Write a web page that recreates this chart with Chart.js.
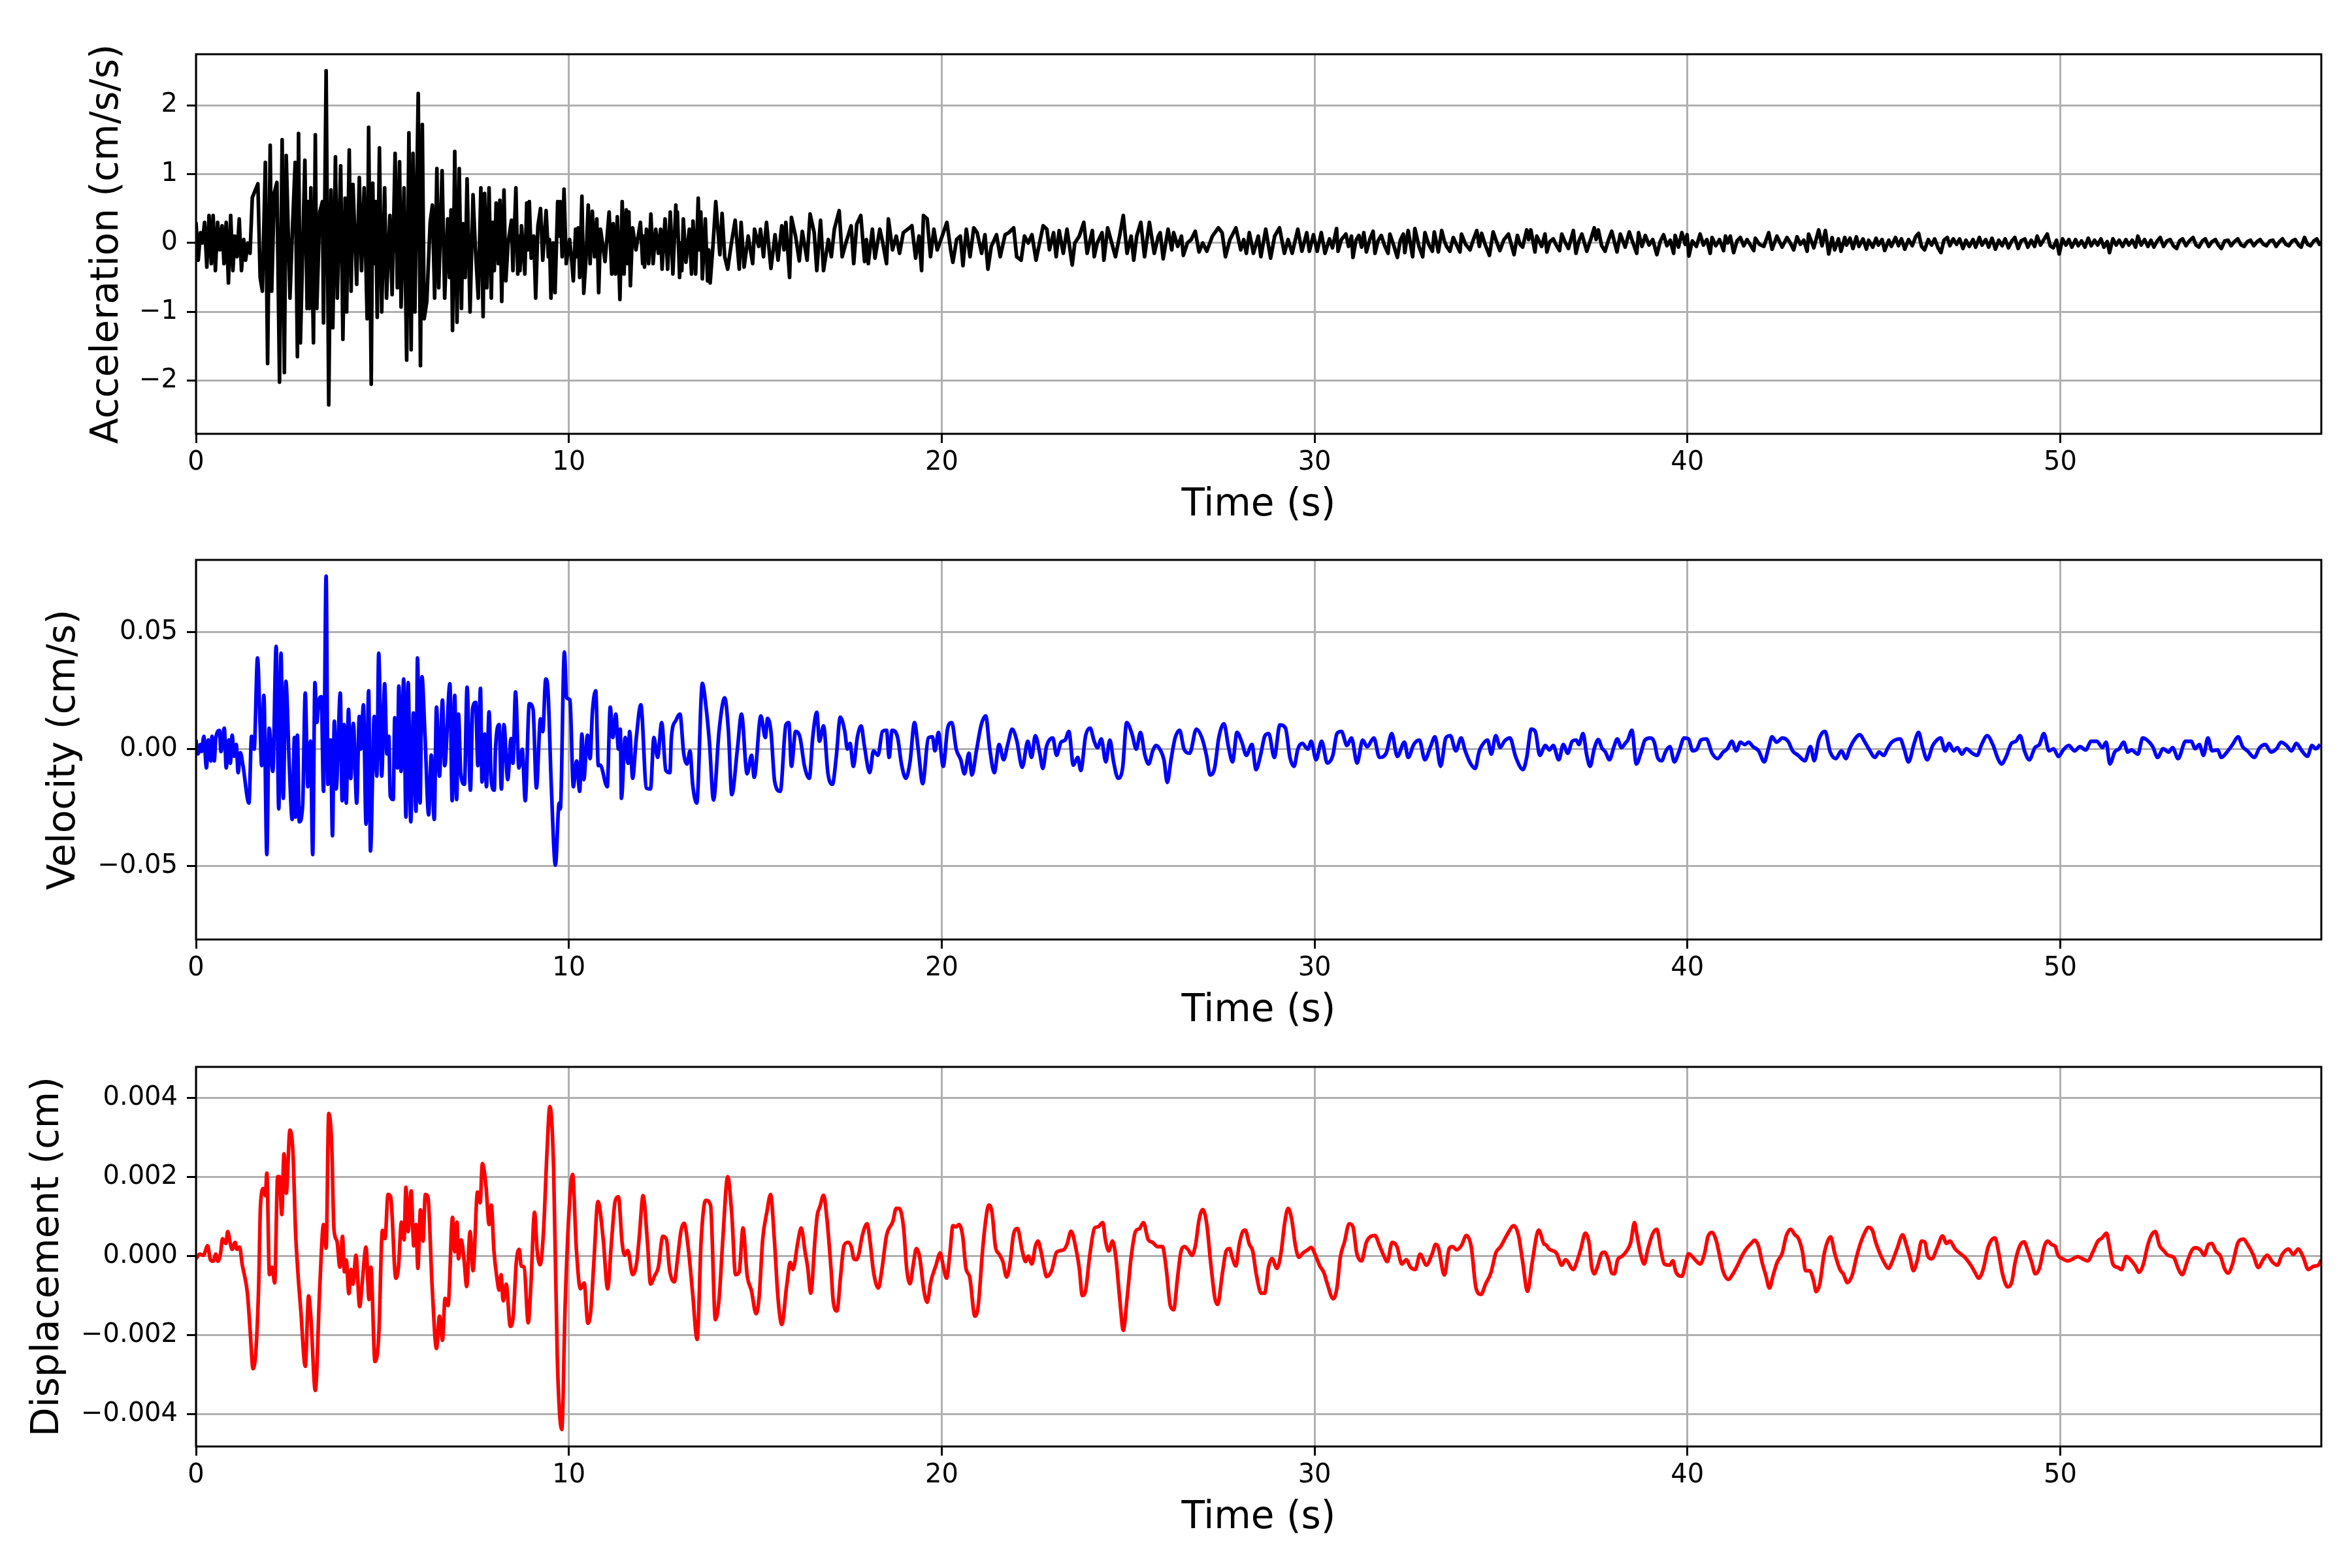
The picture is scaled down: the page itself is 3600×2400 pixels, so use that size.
<!DOCTYPE html>
<html>
<head>
<meta charset="utf-8">
<script src="https://cdn.jsdelivr.net/npm/chart.js@4.4.1/dist/chart.umd.min.js"></script>
<style>
  html, body { margin: 0; padding: 0; background: #fff; }
  body { width: 3600px; height: 2400px; position: relative; overflow: hidden; }
  .panel { position: absolute; left: 0; width: 3600px; }
  canvas { display: block; }
</style>
</head>
<body>
<div class="panel" style="top:0px;height:900px"><canvas id="accChart" width="3600" height="900"></canvas></div>
<div class="panel" style="top:774px;height:900px"><canvas id="velChart" width="3600" height="900"></canvas></div>
<div class="panel" style="top:1550px;height:850px"><canvas id="dispChart" width="3600" height="850"></canvas></div>
<script>
/*---------data [time (s), value]-----------*/
const timeTicks = [0, 10, 20, 30, 40, 50];
const accTicks = [-2, -1, 0, 1, 2];
const velTicks = [-0.05, 0, 0.05];
const dispTicks = [-0.004, -0.002, 0, 0.002, 0.004];

const accel = [
[0.00,0.30],[0.06,-0.25],[0.12,0.15],[0.17,0.00],[0.23,0.30],[0.29,-0.35],[0.35,0.40],[0.41,-0.30],[0.46,0.40],[0.52,-0.40],[0.58,0.30],[0.64,-0.10],[0.70,0.25],[0.75,-0.30],[0.81,0.30],[0.87,-0.58],[0.93,0.40],[0.99,-0.40],[1.04,0.10],[1.10,-0.20],[1.16,0.35],[1.22,-0.40],[1.28,0.05],[1.33,-0.25],[1.39,0.00],[1.45,-0.15],
[1.51,0.66],[1.66,0.86],[1.72,-0.50],[1.78,-0.70],[1.86,1.17],[1.92,-1.75],[1.99,1.42],[2.03,-0.70],[2.10,0.73],[2.17,0.88],[2.24,-2.02],[2.31,1.50],[2.37,-1.88],[2.42,1.27],[2.52,-0.80],[2.59,0.25],[2.66,1.17],[2.72,-1.65],[2.75,1.59],[2.80,-1.45],[2.92,1.20],[2.98,-0.95],[3.01,0.60],[3.04,-0.95],[3.08,0.80],[3.15,-1.45],[3.20,1.57],[3.24,-0.95],[3.32,0.45],[3.39,0.60],[3.42,-1.16],[3.49,2.50],[3.56,-2.35],[3.62,0.77],[3.67,-1.23],[3.74,1.25],[3.79,-0.80],[3.88,1.12],[3.94,-1.40],[4.00,0.65],[4.04,-1.00],[4.11,1.35],[4.16,-0.70],[4.21,0.85],[4.31,-0.60],[4.38,0.95],[4.44,-0.40],[4.51,0.80],[4.59,-1.10],[4.63,1.68],[4.70,-2.05],[4.74,0.87],[4.78,-0.30],[4.82,0.60],[4.86,-1.08],[4.92,1.38],[4.98,-1.00],[5.06,0.80],[5.11,-0.80],[5.20,0.40],[5.26,-0.75],[5.34,1.30],[5.40,-0.65],[5.46,1.18],[5.50,-0.93],[5.58,0.80],[5.65,-1.70],[5.71,1.60],[5.77,-1.55],[5.82,1.30],[5.87,-1.00],[5.96,2.17],[6.02,-1.78],[6.07,1.72],[6.12,-1.10],
[6.19,-0.85],[6.28,0.30],[6.34,0.55],[6.40,-0.80],[6.46,1.08],[6.51,-0.65],[6.60,1.05],[6.67,-0.80],[6.75,0.35],[6.80,-0.50],[6.84,0.48],[6.88,-1.27],[6.94,1.33],[7.00,-1.15],[7.06,1.08],[7.12,-0.95],[7.16,0.28],[7.22,-0.50],[7.27,0.93],[7.35,-1.00],[7.43,0.70],[7.49,-0.05],[7.57,-0.80],[7.64,0.80],[7.70,-1.07],[7.74,0.72],[7.80,-0.65],[7.86,0.80],[7.92,-0.80],[7.96,0.30],[8.00,-0.40],[8.05,0.58],[8.11,-0.30],[8.15,0.62],[8.20,-0.85],[8.26,0.77],[8.31,-0.55],[8.37,0.00],[8.46,0.33],[8.50,-0.40],[8.58,0.80],[8.63,-0.45],[8.66,0.10],[8.69,-0.40],[8.73,0.25],[8.82,-0.45],[8.87,0.58],[8.90,-0.10],[8.94,0.60],[8.99,-0.22],[9.06,0.10],[9.11,-0.80],[9.17,0.25],[9.24,0.50],[9.30,-0.25],[9.39,0.47],[9.45,-0.20],[9.48,0.05],[9.52,-0.80],[9.58,0.00],[9.63,-0.72],[9.70,0.60],[9.73,0.10],[9.77,0.60],[9.82,-0.20],[9.87,0.78],[9.93,-0.30],[10.02,0.05],[10.08,-0.28],[10.12,-0.55],[10.18,0.20],[10.21,-0.20],[10.25,0.22],[10.29,-0.50],[10.35,0.68],[10.40,-0.73],[10.46,-0.22],[10.52,0.55],[10.57,-0.30],[10.63,0.46],[10.69,-0.20],[10.75,0.35],[10.80,-0.72],[10.85,0.20],[10.97,-0.27],[11.08,0.45],[11.15,-0.45],[11.19,0.28],[11.25,-0.45],[11.30,0.38],[11.37,-0.82],[11.43,0.60],[11.48,-0.45],[11.54,0.48],[11.58,-0.30],[11.61,0.45],[11.65,-0.62],[11.71,0.22],[11.80,-0.10],[11.92,0.30],[11.98,-0.30],[12.00,0.10],[12.03,-0.35],[12.08,0.20],[12.14,-0.30],[12.20,0.42],[12.26,-0.30],[12.33,0.20],[12.40,-0.15],[12.46,0.20],[12.50,-0.38],[12.58,0.35],[12.65,-0.38],[12.72,0.45],[12.79,-0.45],[12.87,0.55],[12.89,0.10],[12.91,0.45],[12.97,-0.50],[13.00,0.00],[13.03,-0.40],[13.07,0.35],[13.14,-0.28],[13.23,0.20],[13.29,-0.45],[13.33,0.32],[13.40,-0.45],[13.47,0.65],[13.50,-0.10],[13.54,0.45],[13.58,-0.52],[13.66,0.35],[13.72,-0.55],[13.75,-0.10],[13.79,-0.58],[13.87,0.00],[13.94,0.60],[14.05,-0.17],[14.11,0.43],
[14.18,-0.20],[14.26,-0.38],[14.36,0.00],[14.46,0.33],[14.57,-0.38],[14.62,0.30],[14.70,-0.35],[14.81,0.10],[14.93,-0.30],[14.98,0.20],[15.09,-0.05],[15.14,0.20],[15.22,-0.20],[15.30,0.30],[15.42,-0.37],[15.53,0.12],[15.61,-0.25],[15.71,0.25],[15.77,-0.10],[15.82,0.30],[15.92,-0.50],[15.97,0.37],[16.08,0.10],[16.18,-0.26],[16.26,0.17],[16.39,-0.25],[16.47,0.42],[16.58,0.15],[16.65,-0.40],[16.75,0.33],[16.83,-0.40],[16.96,0.05],[17.04,-0.20],[17.12,0.20],[17.25,0.47],[17.33,-0.20],[17.43,0.00],[17.57,0.25],[17.64,-0.30],[17.72,0.27],[17.83,0.40],[17.93,-0.27],[17.98,0.05],[18.03,-0.30],[18.14,0.20],[18.21,-0.22],[18.34,0.20],[18.42,0.00],[18.52,-0.30],[18.57,0.35],[18.68,-0.10],[18.78,0.10],[18.87,-0.15],[18.97,0.15],[19.09,0.20],[19.20,0.25],[19.30,-0.22],[19.39,0.10],[19.46,-0.40],[19.51,0.40],[19.61,0.35],[19.70,-0.20],[19.79,0.20],[19.88,-0.10],[19.98,0.05],[20.14,0.30],[20.24,-0.10],[20.30,-0.28],[20.40,0.05],[20.50,0.10],[20.57,-0.33],[20.66,0.20],[20.76,-0.20],[20.86,0.22],[20.95,0.15],[21.07,-0.15],[21.16,0.12],[21.24,-0.38],[21.33,-0.05],[21.47,0.12],[21.57,-0.20],[21.70,0.12],[21.80,0.15],[21.93,0.22],[22.01,-0.20],[22.13,-0.25],[22.22,0.10],[22.32,0.00],[22.42,0.12],[22.53,-0.25],[22.72,0.25],[22.82,0.20],[22.89,-0.10],[23.00,0.15],[23.07,-0.20],[23.15,0.18],[23.26,-0.15],[23.36,0.20],[23.50,-0.32],[23.57,0.00],[23.69,0.10],[23.81,0.30],[23.90,-0.15],[24.04,0.18],[24.09,-0.20],[24.17,0.00],[24.30,0.15],[24.35,-0.25],[24.45,0.22],[24.56,0.00],[24.66,-0.20],[24.77,0.10],[24.87,0.40],[24.97,-0.15],[25.08,0.10],[25.15,-0.25],[25.23,0.10],[25.34,0.30],[25.44,-0.20],[25.57,0.30],[25.70,-0.15],[25.81,0.10],[25.86,0.15],[25.94,-0.23],[26.07,0.20],[26.17,-0.10],[26.22,0.15],[26.33,-0.05],[26.43,0.10],[26.48,-0.18],[26.59,0.00],[26.69,0.05],[26.80,0.17],[26.90,-0.13],[27.00,0.00],[27.11,-0.12],[27.26,0.10],[27.42,0.22],[27.52,0.15],[27.61,-0.20],[27.73,0.05],[27.89,0.22],[28.02,-0.10],[28.10,0.05],[28.17,-0.15],[28.25,0.15],[28.36,-0.15],[28.49,0.10],[28.56,-0.20],[28.69,0.20],[28.82,-0.22],[28.93,0.10],[29.06,0.22],[29.19,-0.15],[29.29,0.05],[29.40,-0.15],[29.55,0.20],[29.66,-0.12],[29.79,0.15],[29.86,-0.12],[29.97,0.12],[30.07,-0.12],[30.18,0.15],[30.28,-0.15],
[30.40,0.06],[30.48,-0.07],[30.59,0.21],[30.63,-0.12],[30.72,0.05],[30.84,0.13],[30.91,-0.05],[30.99,0.10],[31.03,-0.21],[31.11,0.04],[31.19,0.11],[31.26,-0.06],[31.32,0.15],[31.39,-0.13],[31.48,0.05],[31.57,0.17],[31.62,-0.15],[31.70,0.03],[31.79,0.11],[31.88,-0.04],[31.97,-0.15],[32.02,0.13],[32.12,-0.03],[32.22,-0.21],[32.30,0.04],[32.38,0.13],[32.42,-0.14],[32.51,0.18],[32.63,-0.20],[32.69,0.21],[32.80,-0.05],[32.90,-0.20],[32.96,0.15],[33.06,-0.02],[33.16,-0.12],[33.21,0.16],[33.32,-0.13],[33.41,0.18],[33.48,0.03],[33.54,-0.05],[33.63,-0.12],[33.72,0.08],[33.81,-0.03],[33.90,-0.13],[33.94,0.13],[34.05,-0.02],[34.17,-0.10],[34.26,0.05],[34.35,0.18],[34.42,-0.05],[34.48,0.14],[34.58,-0.03],[34.69,-0.18],[34.79,0.16],[34.88,0.02],[34.97,-0.11],[35.08,0.05],[35.20,0.13],[35.35,-0.17],[35.44,0.11],[35.51,-0.02],[35.58,-0.06],[35.69,0.19],[35.74,0.05],[35.80,0.19],[35.91,-0.13],[35.96,0.10],[36.09,-0.05],[36.18,0.13],[36.23,-0.13],[36.31,0.02],[36.40,0.06],[36.49,-0.04],[36.57,-0.11],[36.63,0.13],[36.72,0.01],[36.81,-0.08],[36.94,0.18],[37.01,-0.15],[37.09,0.03],[37.17,0.13],[37.30,-0.12],[37.40,0.04],[37.50,0.22],[37.55,0.05],[37.61,0.19],[37.70,-0.04],[37.79,-0.12],[37.88,0.04],[37.97,0.17],[38.11,-0.13],[38.20,0.13],[38.33,-0.06],[38.44,0.16],[38.54,0.00],[38.64,-0.15],[38.69,0.15],[38.78,-0.05],[38.87,0.11],[38.97,-0.03],[39.07,0.05],[39.18,-0.17],[39.27,0.02],[39.36,0.12],[39.45,-0.04],[39.54,0.04],[39.63,-0.15],[39.67,0.11],[39.76,-0.06],[39.85,0.15],[39.94,-0.02],[39.99,0.12],[40.04,-0.19],[40.13,0.03],[40.24,-0.05],[40.34,0.13],[40.43,-0.03],[40.52,0.05],[40.61,-0.15],[40.66,0.08],[40.76,-0.04],[40.86,0.05],[40.97,-0.11],[41.02,0.10],[41.08,0.00],[41.15,0.10],[41.24,-0.14],[41.33,0.03],[41.42,0.08],[41.51,-0.04],[41.60,0.05],[41.69,-0.03],[41.78,-0.11],[41.82,0.07],[41.93,-0.02],[42.05,-0.05],[42.18,0.15],[42.27,-0.09],[42.40,0.10],[42.54,-0.06],[42.67,0.08],[42.76,0.00],[42.85,-0.10],[42.94,0.09],[43.03,-0.02],[43.12,0.04],[43.21,-0.12],[43.25,0.13],[43.39,-0.07],[43.52,0.19],[43.61,-0.04],[43.70,0.18],[43.79,-0.16],
[43.88,0.08],[43.95,-0.10],[44.05,0.06],[44.12,-0.12],[44.22,0.08],[44.27,-0.03],[44.36,0.07],[44.44,-0.08],[44.53,0.09],[44.60,-0.05],[44.71,0.06],[44.80,-0.09],[44.86,0.04],[44.97,-0.06],[45.06,0.07],[45.12,-0.03],[45.22,0.05],[45.29,-0.11],[45.40,0.04],[45.47,-0.05],[45.58,0.08],[45.66,-0.04],[45.74,0.06],[45.83,-0.09],[45.93,0.05],[46.03,-0.04],[46.12,0.09],[46.20,0.14],[46.28,-0.05],[46.36,-0.10],[46.46,0.05],[46.55,-0.03],[46.63,0.06],[46.72,-0.07],[46.80,-0.14],[46.88,0.04],[46.97,0.08],[47.04,-0.04],[47.13,0.06],[47.22,-0.02],[47.30,0.06],[47.39,-0.08],[47.47,0.04],[47.56,-0.05],[47.66,0.05],[47.73,-0.06],[47.83,0.08],[47.90,-0.03],[48.00,0.05],[48.08,-0.06],[48.17,0.07],[48.26,-0.09],[48.35,0.04],[48.44,-0.04],[48.52,0.06],[48.61,-0.07],[48.70,0.03],[48.78,0.08],[48.87,-0.08],[48.95,0.03],[49.05,0.06],[49.13,-0.06],[49.22,0.04],[49.31,-0.05],[49.38,0.10],[49.47,-0.03],[49.56,0.05],[49.65,0.13],[49.73,-0.04],[49.81,-0.07],[49.90,0.04],[49.97,-0.16],[50.06,0.06],[50.15,-0.03],[50.23,0.05],[50.31,-0.06],[50.41,0.05],[50.48,-0.04],[50.57,0.03],[50.66,-0.06],[50.75,0.07],[50.83,-0.04],[50.92,0.04],[51.00,-0.03],[51.09,0.06],[51.17,-0.06],[51.26,0.02],[51.32,-0.14],[51.41,0.06],[51.50,-0.03],[51.58,0.04],[51.67,-0.05],[51.76,0.05],[51.84,-0.03],[51.93,0.04],[52.02,-0.06],[52.08,0.10],[52.17,-0.03],[52.26,0.05],[52.35,-0.05],[52.43,0.04],[52.51,-0.06],[52.60,0.03],[52.68,0.08],[52.77,-0.05],[52.86,0.03],[52.95,0.05],[53.03,-0.04],[53.12,-0.08],[53.20,0.03],[53.28,0.06],[53.37,-0.04],[53.46,0.03],[53.56,0.08],[53.64,-0.03],[53.72,-0.06],[53.81,0.03],[53.89,0.06],[53.98,-0.05],[54.07,0.02],[54.16,0.05],[54.24,-0.03],[54.32,-0.08],[54.41,0.03],[54.50,0.04],[54.58,-0.04],[54.67,0.02],[54.76,0.06],[54.85,-0.03],[54.93,-0.05],[55.02,0.02],[55.10,0.04],[55.19,-0.04],[55.28,0.02],[55.36,0.05],[55.45,-0.02],[55.53,-0.04],[55.62,0.03],[55.70,0.04],[55.79,-0.05],[55.88,0.02],[55.96,0.06],[56.05,-0.02],[56.13,-0.04],[56.22,0.03],[56.30,0.05],[56.39,-0.03],[56.46,-0.06],[56.55,0.08],[56.63,-0.02],[56.71,-0.04],[56.80,0.03],[56.88,0.06],[56.95,-0.02],[57.00,0.02]
];

const velocity = [
[0.00,0.004],[0.05,-0.002],[0.12,0.002],[0.15,-0.001],[0.21,0.0055],[0.28,-0.008],[0.33,0.004],[0.40,-0.005],[0.43,0.0055],[0.49,-0.005],[0.53,0.0045],[0.63,0.008],[0.67,-0.001],[0.76,0.009],[0.81,-0.008],[0.88,0.004],[0.92,-0.006],[0.97,0.006],[1.02,-0.003],[1.08,0.002],[1.13,-0.010],[1.19,-0.0015],[1.26,-0.007],[1.42,-0.023],[1.49,0.0055],[1.56,0.000],[1.65,0.039],[1.72,0.010],[1.76,-0.007],[1.82,0.023],[1.90,-0.045],[1.96,0.009],[2.06,-0.0095],[2.15,0.044],[2.22,-0.0255],[2.28,0.041],[2.34,-0.021],[2.41,0.029],[2.50,-0.006],[2.58,-0.030],[2.64,0.005],[2.67,-0.029],[2.72,0.006],[2.77,-0.031],[2.86,-0.024],[2.93,0.024],[3.00,-0.016],[3.07,0.0035],[3.13,-0.045],[3.19,0.0285],[3.24,0.0115],[3.29,0.020],[3.36,0.0225],[3.42,-0.018],[3.49,0.074],[3.54,-0.015],[3.61,0.004],[3.66,-0.037],[3.71,0.012],[3.76,-0.017],[3.87,0.024],[3.92,-0.022],[3.97,0.0105],[4.03,-0.023],[4.09,0.017],[4.15,-0.0125],[4.22,0.011],[4.31,-0.023],[4.38,0.014],[4.42,0.000],[4.49,0.019],[4.56,-0.032],[4.63,0.025],[4.68,-0.0435],[4.78,0.014],[4.85,-0.0115],[4.90,0.041],[4.98,-0.0115],[5.06,0.028],[5.12,-0.002],[5.17,0.0055],[5.21,-0.020],[5.29,-0.0215],[5.33,0.0135],[5.40,-0.008],[5.44,0.027],[5.50,-0.0095],[5.57,0.030],[5.63,-0.029],[5.69,0.0285],[5.76,-0.031],[5.83,0.0155],[5.90,-0.0265],[5.94,0.039],[6.01,-0.023],[6.06,0.031],[6.14,0.0065],[6.24,-0.028],[6.31,-0.0025],[6.39,-0.030],[6.45,0.018],[6.53,-0.0115],[6.61,0.021],[6.67,-0.007],[6.81,0.028],[6.87,-0.022],[6.94,0.023],[6.99,-0.0215],[7.04,0.015],[7.10,-0.010],[7.20,-0.015],[7.27,0.0265],[7.36,-0.0175],[7.42,0.0175],[7.50,0.020],[7.56,-0.007],[7.63,0.026],[7.67,-0.014],[7.74,0.0065],[7.79,-0.016],[7.86,0.016],[7.92,-0.0135],[8.00,-0.0175],[8.03,-0.001],[8.13,0.0105],[8.19,-0.017],[8.26,0.0105],[8.36,-0.013],[8.45,0.0045],[8.50,-0.006],[8.57,0.0245],[8.66,-0.008],[8.75,0.000],[8.83,-0.022],[8.94,0.0195],[9.04,0.017],[9.13,-0.0165],[9.24,0.013],[9.30,0.0075],[9.38,0.030],[9.44,0.025],[9.53,-0.016],[9.64,-0.0495],[9.74,-0.023],[9.77,-0.0255],[9.88,0.0415],[9.94,0.022],[10.03,0.021],[10.12,-0.016],[10.21,-0.005],[10.29,-0.018],[10.35,0.0065],[10.40,-0.013],[10.50,0.006],[10.57,-0.004],[10.63,0.0155],[10.72,0.025],[10.79,-0.007],
[10.84,-0.0068],[11.03,-0.016],[11.11,0.018],[11.18,0.005],[11.26,0.015],[11.33,0.000],[11.38,0.0086],[11.41,-0.021],[11.51,0.005],[11.59,-0.006],[11.63,0.0076],[11.71,-0.0124],[11.81,0.005],[11.93,0.019],[12.08,-0.0166],[12.19,-0.017],[12.28,0.005],[12.38,-0.0035],[12.49,0.0114],[12.60,-0.009],[12.71,-0.010],[12.75,0.005],[12.87,0.0123],[12.98,0.015],[13.08,-0.0017],[13.17,-0.0063],[13.25,-0.0007],[13.32,-0.015],[13.43,-0.023],[13.58,0.0281],[13.68,0.0179],[13.77,0.003],[13.88,-0.0217],[14.03,0.008],[14.18,0.022],[14.28,0.0076],[14.37,-0.0194],[14.52,0.000],[14.63,0.015],[14.78,-0.0105],[14.90,-0.0026],[14.97,-0.012],[15.15,0.0142],[15.27,0.005],[15.33,0.0132],[15.42,0.0076],[15.52,-0.0138],[15.67,-0.018],[15.82,0.0104],[15.90,0.0114],[15.97,-0.0073],[16.08,0.0076],[16.20,0.005],[16.32,-0.0073],[16.45,-0.0124],[16.54,0.005],[16.65,0.0158],[16.72,0.0034],[16.83,0.010],[16.95,-0.0105],[17.07,-0.015],[17.17,-0.0035],[17.28,0.0137],[17.40,0.0076],[17.47,0.000],[17.54,0.0025],[17.63,-0.0073],[17.74,0.0053],[17.84,0.010],[17.92,0.002],[18.07,-0.010],[18.17,-0.0007],[18.29,-0.0026],[18.41,0.0076],[18.52,0.0081],[18.59,-0.0035],[18.67,0.0081],[18.82,0.0048],[18.92,-0.0063],[19.04,-0.0124],[19.15,-0.0054],[19.27,0.0114],[19.37,0.000],[19.49,-0.0147],[19.64,0.0048],[19.75,0.0053],[19.82,-0.0007],[19.91,0.0072],[20.04,-0.0073],[20.16,0.009],[20.27,0.0114],[20.39,0.000],[20.51,-0.0045],[20.61,-0.0105],[20.73,-0.0017],[20.81,-0.011],[20.93,-0.0007],[21.06,0.0104],[21.18,0.0142],[21.29,0.000],[21.41,-0.010],[21.54,0.002],[21.66,-0.0045],[21.77,0.002],[21.89,0.0086],[22.01,0.0039],[22.16,-0.0077],[22.31,0.0034],[22.41,-0.0035],[22.51,0.0058],[22.63,-0.0017],[22.71,-0.0082],[22.81,0.0011],[22.98,0.0048],[23.08,-0.0026],[23.20,0.003],[23.31,0.0039],[23.41,0.0076],[23.53,-0.0068],[23.65,-0.0035],[23.73,-0.0091],[23.86,0.0058],[23.98,0.009],[24.09,0.0034],[24.18,0.0007],[24.28,0.0044],[24.40,-0.0054],[24.51,0.0039],[24.61,-0.0054],[24.73,-0.0124],[24.85,-0.0082],[24.96,0.0114],[25.10,0.0067],[25.22,0.000],[25.33,0.0072],[25.45,-0.0026],[25.55,-0.0063],[25.66,-0.0007],[25.75,0.0016],[25.85,0.000],[25.96,-0.0045],[26.05,-0.0142],[26.15,-0.0045],[26.26,0.0048],[26.38,0.0081],[26.50,0.000],[26.65,-0.0017],[26.83,0.0086],[26.98,0.0048],[27.10,-0.0026],[27.20,-0.011],[27.32,-0.008],[27.43,0.0048],[27.57,0.0109],[27.69,0.0011],[27.80,-0.0054],[27.92,0.0072],[28.05,0.003],[28.17,-0.0026],[28.32,0.002],[28.43,-0.0087],[28.55,-0.0026],[28.67,0.0058],[28.77,0.0067],[28.92,-0.0035],[29.07,0.0104],[29.22,0.009],[29.34,-0.0035],[29.45,-0.0073],[29.55,0.000],[29.67,0.0025],[29.82,0.000],[29.91,0.0034],[30.04,-0.0045],[30.19,0.0034],[30.34,-0.0059],[30.49,-0.0026],[30.60,0.0067],[30.72,0.0076],[30.87,0.0016],[30.99,0.0048],[31.14,-0.0059],[31.29,0.0039],[31.41,0.0011],[31.59,0.0048],[31.74,-0.0035],[31.92,-0.0017],[32.07,0.0067],[32.22,-0.0031],[32.41,0.003],[32.51,-0.0035],[32.66,0.002],[32.81,0.0039],[32.96,-0.0045],[33.11,0.0011],[33.23,0.0053],[33.38,-0.0073],[33.52,0.0048],[33.64,0.0058],[33.79,-0.0007],
[33.93,0.0048],[34.04,-0.0007],[34.19,-0.0063],[34.31,-0.0082],[34.41,-0.0012],[34.49,0.0016],[34.64,0.0039],[34.74,-0.0021],[34.86,0.0058],[34.98,0.0007],[35.09,0.0034],[35.24,0.0048],[35.39,-0.0031],[35.59,-0.0087],[35.69,-0.0035],[35.81,0.0086],[35.92,0.0076],[36.04,-0.0026],[36.19,0.0016],[36.30,-0.0003],[36.40,0.0016],[36.55,-0.0045],[36.67,0.002],[36.79,-0.0017],[36.91,0.0034],[37.02,0.0039],[37.09,0.002],[37.20,0.0067],[37.30,-0.0026],[37.39,-0.0073],[37.50,0.0002],[37.61,0.0041],[37.70,0.0007],[37.80,-0.0012],[37.91,-0.0045],[38.03,0.0011],[38.12,0.0044],[38.23,0.0007],[38.33,0.0025],[38.40,0.0039],[38.51,0.0081],[38.63,-0.0063],[38.75,-0.0017],[38.86,0.0039],[39.01,0.0048],[39.11,0.003],[39.20,-0.0035],[39.31,-0.0049],[39.41,-0.0012],[39.53,0.0011],[39.65,-0.0054],[39.77,-0.0012],[39.91,0.0048],[40.03,0.0044],[40.14,-0.0007],[40.26,0.0002],[40.36,0.0039],[40.51,0.0044],[40.66,-0.0017],[40.81,-0.004],[40.96,-0.0012],[41.07,0.0002],[41.19,0.0034],[41.31,-0.0007],[41.42,0.003],[41.54,0.002],[41.64,0.003],[41.76,0.0011],[41.91,-0.0007],[42.06,-0.0054],[42.17,0.0002],[42.27,0.0053],[42.39,0.003],[42.55,0.0048],[42.70,0.0034],[42.82,-0.0007],[42.97,-0.0026],[43.15,-0.0049],[43.30,0.0011],[43.40,-0.0049],[43.52,0.0039],[43.60,0.0067],[43.69,0.0076],[43.83,-0.0012],[43.98,-0.004],[44.13,-0.0007],[44.25,-0.004],[44.35,0.0002],[44.47,0.0039],[44.62,0.0062],[44.76,0.003],[44.88,-0.0003],[45.03,-0.0035],[45.14,-0.0012],[45.26,-0.0026],[45.38,0.0007],[45.48,0.003],[45.71,0.0044],[45.81,0.0002],[45.93,-0.0054],[46.08,0.0025],[46.20,0.0072],[46.31,0.0007],[46.43,-0.0045],[46.58,0.0016],[46.69,0.0039],[46.79,0.0048],[46.91,-0.0007],[47.02,0.0025],[47.14,-0.0007],[47.24,0.0007],[47.36,-0.0021],[47.48,0.0002],[47.64,-0.0017],[47.77,-0.0026],[47.89,0.002],[48.04,0.0058],[48.19,0.002],[48.34,-0.0045],[48.42,-0.0063],[48.54,-0.0035],[48.69,0.0025],[48.81,0.0034],[48.92,0.0058],[49.05,-0.0012],[49.17,-0.0045],[49.32,0.0007],[49.44,0.002],[49.56,0.0067],[49.70,-0.0007],[49.82,0.0002],[49.95,-0.0031],[50.08,-0.0003],[50.23,0.0016],[50.38,-0.0007],[50.53,0.0011],[50.68,-0.0003],[50.83,0.0034],[50.98,0.0034],[51.13,0.0007],[51.23,0.003],[51.33,-0.0063],[51.46,-0.0012],[51.58,0.0002],[51.70,0.003],[51.81,-0.0012],[51.91,-0.0003],[52.08,-0.0021],[52.21,0.0048],[52.33,0.0039],[52.48,0.0011],[52.61,-0.0035],[52.76,0.0002],[52.91,-0.0012],[53.01,0.0007],[53.16,-0.004],[53.36,0.0034],[53.51,0.0034],[53.62,0.0002],[53.73,0.002],[53.84,-0.0026],[53.96,0.0048],[54.07,-0.0007],[54.22,-0.0003],[54.32,-0.0035],[54.47,-0.0012],[54.62,0.002],[54.77,0.0053],[54.89,0.0011],[55.02,-0.0007],[55.20,-0.0035],[55.35,0.0007],[55.50,0.002],[55.65,-0.0012],[55.80,0.0002],[55.92,0.003],[56.07,0.0016],[56.20,-0.0007],[56.33,0.0025],[56.48,-0.0007],[56.63,-0.003],[56.75,0.0016],[56.85,0.0002],[56.97,0.002]
];

const displacement = [
[0.00,-0.00007],[0.10,0.00005],[0.20,0.00002],[0.31,0.00026],[0.39,-0.00010],[0.46,-0.00013],[0.53,0.00005],[0.59,-0.00013],[0.66,0.00008],[0.71,0.00044],[0.80,0.00032],[0.85,0.00062],[0.92,0.00032],[0.97,0.00017],[1.05,0.00035],[1.10,0.00017],[1.17,0.00023],[1.24,-0.00022],[1.31,-0.00053],[1.38,-0.00095],[1.45,-0.00185],[1.53,-0.00285],[1.61,-0.00234],[1.68,-0.00077],[1.73,0.00129],[1.81,0.00171],[1.86,0.00153],[1.90,0.00210],[1.97,-0.00047],[2.04,-0.00028],[2.11,-0.00068],[2.19,0.00201],[2.24,0.00201],[2.30,0.00105],[2.36,0.00259],[2.42,0.00159],[2.52,0.00319],[2.60,0.00262],[2.67,0.00062],[2.73,-0.00037],[2.81,-0.00137],[2.93,-0.00279],[3.02,-0.00101],[3.08,-0.00155],[3.20,-0.00340],[3.32,-0.00077],[3.42,0.00080],[3.49,0.00020],[3.56,0.00361],[3.64,0.00280],[3.70,0.00068],[3.78,0.00038],[3.86,-0.00028],[3.93,0.00050],[3.98,-0.00040],[4.03,-0.00010],[4.10,-0.00095],[4.16,-0.00034],[4.21,-0.00071],[4.29,0.00002],[4.39,-0.00128],[4.46,-0.00065],[4.56,0.00023],[4.64,-0.00110],[4.69,-0.00028],[4.80,-0.00267],[4.90,-0.00204],[5.00,0.00065],[5.07,0.00044],[5.15,0.00156],[5.22,0.00150],[5.36,-0.00056],[5.43,-0.00028],[5.51,0.00086],[5.58,0.00041],[5.63,0.00174],[5.69,0.00062],[5.77,0.00165],[5.84,0.00026],[5.90,0.00080],[5.95,-0.00031],[6.02,0.00117],[6.09,0.00038],[6.15,0.00156],[6.22,0.00150],[6.33,-0.00071],[6.45,-0.00234],[6.53,-0.00152],[6.61,-0.00213],[6.68,-0.00107],[6.76,-0.00125],[6.88,0.00098],[6.94,0.00011],[7.00,0.00086],[7.04,-0.00007],[7.11,0.00041],[7.19,-0.00010],[7.26,-0.00077],[7.35,0.00062],[7.43,-0.00037],[7.55,0.00162],[7.62,0.00135],[7.68,0.00234],[7.78,0.00174],[7.86,0.00080],[7.92,0.00129],[7.99,0.00014],[8.08,-0.00062],[8.13,-0.00086],[8.18,-0.00047],[8.24,-0.00113],[8.32,-0.00071],[8.43,-0.00178],[8.51,-0.00149],[8.59,-0.00016],[8.67,0.00017],[8.72,-0.00025],[8.80,-0.00028],[8.91,-0.00169],[8.98,-0.00077],[9.08,0.00111],[9.15,0.00014],[9.23,-0.00022],[9.32,0.00062],[9.41,0.00256],[9.49,0.00379],[9.59,0.00225],[9.69,-0.00258],[9.81,-0.00439],[9.90,-0.00125],[10.00,0.00105],[10.10,0.00207],[10.20,0.00020],[10.31,-0.00083],[10.41,-0.00068],[10.51,-0.00170],[10.59,-0.00137],[10.67,-0.00016],[10.78,0.00138],[10.92,0.00044],[11.04,-0.00083],[11.14,0.00032],[11.24,0.00138],[11.33,0.00150],[11.43,0.00032],[11.50,0.00002],[11.58,0.00014],[11.71,-0.00047],[11.82,-0.00016],[11.89,0.00050],[11.99,0.00153],[12.11,0.00032],[12.19,-0.00071],[12.30,-0.00050],[12.40,-0.00028],[12.52,0.00050],[12.62,0.00041],[12.70,-0.00034],[12.83,-0.00065],[12.91,-0.00010],[13.01,0.00065],[13.09,0.00083],[13.21,0.00014],[13.32,-0.00095],[13.44,-0.00211],[13.55,0.00044],[13.67,0.00141],[13.80,0.00129],[13.93,-0.00161],[14.03,-0.00107],[14.13,0.00044],[14.26,0.00201],[14.37,0.00105],[14.47,-0.00047],[14.57,-0.00040],[14.67,0.00071],[14.78,-0.00047],[14.90,-0.00089],[15.02,-0.00146],[15.10,-0.00107],[15.20,0.00044],[15.31,0.00111],[15.41,0.00156],[15.51,0.00044],[15.61,-0.00107],[15.71,-0.00173],[15.84,-0.00077],[15.94,-0.00016],
[16.01,-0.00034],[16.14,0.00035],[16.23,0.00071],[16.34,0.00008],[16.40,-0.00025],[16.49,-0.00094],[16.60,0.00041],[16.66,0.00102],[16.74,0.00127],[16.83,0.00154],[16.92,0.00096],[17.03,-0.00031],[17.09,-0.00114],[17.19,-0.00139],[17.29,-0.00048],[17.38,0.00027],[17.49,0.00035],[17.58,0.00022],[17.64,-0.00006],[17.71,-0.00009],[17.77,0.00002],[17.87,0.00052],[18.00,0.00082],[18.08,0.00035],[18.17,-0.00039],[18.30,-0.00081],[18.40,-0.00031],[18.52,0.00052],[18.69,0.00088],[18.78,0.00121],[18.86,0.00121],[18.98,0.00069],[19.06,-0.00031],[19.15,-0.00070],[19.24,-0.00020],[19.32,0.00019],[19.41,-0.00003],[19.52,-0.00086],[19.61,-0.00117],[19.71,-0.00064],[19.84,-0.00025],[19.96,0.00008],[20.04,-0.00025],[20.13,-0.00056],[20.22,0.00008],[20.30,0.00077],[20.39,0.00074],[20.46,0.00080],[20.56,0.00052],[20.65,-0.00031],[20.75,-0.00053],[20.89,-0.00152],[20.98,-0.00125],[21.09,0.00008],[21.18,0.00091],[21.26,0.00129],[21.35,0.00110],[21.44,0.00024],[21.54,0.00005],[21.64,-0.00014],[21.74,-0.00053],[21.83,-0.00020],[21.92,0.00052],[22.03,0.00070],[22.16,0.00013],[22.25,-0.00014],[22.32,0.00000],[22.42,-0.00020],[22.51,0.00024],[22.58,0.00038],[22.66,0.00013],[22.75,-0.00031],[22.81,-0.00052],[22.95,-0.00036],[23.08,0.00010],[23.27,0.00016],[23.36,0.00030],[23.47,0.00063],[23.60,0.00019],[23.69,-0.00031],[23.77,-0.00100],[23.86,-0.00086],[23.97,0.00002],[24.10,0.00071],[24.19,0.00074],[24.32,0.00085],[24.39,0.00041],[24.48,0.00013],[24.58,0.00038],[24.67,-0.00003],[24.78,-0.00114],[24.87,-0.00188],[24.97,-0.00108],[25.08,-0.00003],[25.20,0.00063],[25.30,0.00069],[25.41,0.00085],[25.54,0.00041],[25.65,0.00035],[25.79,0.00024],[25.92,0.00024],[26.02,-0.00031],[26.13,-0.00125],[26.22,-0.00136],[26.32,-0.00059],[26.41,0.00008],[26.51,0.00024],[26.61,0.00016],[26.71,0.00002],[26.81,0.00030],[26.90,0.00091],[27.00,0.00118],[27.11,0.00080],[27.21,-0.00014],[27.33,-0.00108],[27.40,-0.00122],[27.53,-0.00042],[27.63,0.00013],[27.72,0.00019],[27.79,-0.00003],[27.89,-0.00025],[27.98,0.00030],[28.08,0.00063],[28.14,0.00066],[28.25,0.00030],[28.34,0.00013],[28.44,-0.00048],[28.57,-0.00094],[28.66,-0.00094],[28.77,-0.00025],[28.86,-0.00006],[28.99,-0.00031],[29.10,0.00008],[29.20,0.00085],[29.29,0.00121],[29.39,0.00091],[29.49,0.00024],[29.58,-0.00003],[29.69,0.00008],[29.82,0.00016],[29.91,0.00022],[30.01,0.00005],[30.14,-0.00025],[30.25,-0.00042],[30.34,-0.00070],[30.50,-0.00108],[30.60,-0.00081],[30.69,-0.00003],[30.80,0.00035],[30.93,0.00082],[31.03,0.00074],[31.13,0.00008],[31.26,-0.00012],[31.39,0.00035],[31.62,0.00052],[31.74,0.00027],[31.85,0.00002],[31.95,-0.00014],[32.08,0.00035],[32.21,0.00024],[32.34,-0.00020],[32.46,-0.00009],[32.57,-0.00028],[32.70,-0.00034],[32.83,0.00005],[33.00,-0.00023],[33.15,0.00005],[33.25,0.00030],[33.32,0.00022],[33.48,-0.00048],[33.61,0.00019],[33.70,0.00024],[33.81,0.00016],[33.94,0.00027],[34.07,0.00052],[34.20,0.00024],[34.33,-0.00081],[34.46,-0.00097],[34.59,-0.00070],[34.73,-0.00042],[34.86,0.00008],[34.99,0.00024],[35.18,0.00057],[35.34,0.00077],[35.47,0.00052],[35.58,-0.00014],[35.71,-0.00089],[35.84,-0.00014],[36.01,0.00066],[36.16,0.00030],
[36.20,0.00029],[36.29,0.00018],[36.49,0.00007],[36.63,-0.00023],[36.73,-0.00009],[36.94,-0.00034],[37.03,-0.00015],[37.14,0.00018],[37.26,0.00058],[37.37,0.00029],[37.43,-0.00026],[37.50,-0.00045],[37.59,-0.00026],[37.70,0.00007],[37.77,0.00010],[37.88,-0.00009],[37.97,-0.00043],[38.04,-0.00045],[38.13,-0.00009],[38.24,-0.00001],[38.37,0.00013],[38.48,0.00035],[38.58,0.00085],[38.64,0.00057],[38.74,0.00007],[38.84,-0.00020],[38.94,0.00018],[39.07,0.00057],[39.18,0.00068],[39.29,0.00013],[39.38,-0.00020],[39.52,-0.00023],[39.61,-0.00012],[39.69,-0.00040],[39.85,-0.00051],[39.95,-0.00020],[40.03,0.00006],[40.23,-0.00012],[40.34,-0.00020],[40.46,0.00007],[40.55,0.00049],[40.66,0.00060],[40.77,0.00040],[40.86,0.00002],[40.95,-0.00037],[41.10,-0.00059],[41.20,-0.00048],[41.33,-0.00026],[41.47,0.00002],[41.60,0.00021],[41.71,0.00032],[41.80,0.00040],[41.91,0.00024],[42.00,-0.00015],[42.10,-0.00048],[42.20,-0.00081],[42.30,-0.00048],[42.41,-0.00015],[42.54,0.00007],[42.65,0.00051],[42.77,0.00068],[42.88,0.00054],[42.97,0.00046],[43.08,0.00013],[43.17,-0.00037],[43.28,-0.00037],[43.39,-0.00065],[43.45,-0.00090],[43.55,-0.00070],[43.66,0.00002],[43.75,0.00035],[43.84,0.00049],[43.95,0.00007],[44.09,-0.00034],[44.18,-0.00045],[44.29,-0.00067],[44.42,-0.00048],[44.53,-0.00004],[44.65,0.00035],[44.76,0.00060],[44.85,0.00073],[44.96,0.00065],[45.05,0.00035],[45.16,0.00007],[45.27,-0.00015],[45.39,-0.00031],[45.50,-0.00012],[45.63,0.00021],[45.77,0.00054],[45.87,0.00029],[45.97,-0.00004],[46.06,-0.00037],[46.17,-0.00009],[46.28,0.00038],[46.37,0.00035],[46.44,0.00002],[46.55,-0.00007],[46.71,0.00024],[46.84,0.00051],[46.95,0.00032],[47.04,0.00038],[47.18,0.00018],[47.31,0.00007],[47.45,-0.00004],[47.62,-0.00026],[47.72,-0.00043],[47.81,-0.00056],[47.94,-0.00031],[48.05,0.00018],[48.15,0.00040],[48.25,0.00046],[48.35,0.00007],[48.45,-0.00045],[48.59,-0.00078],[48.70,-0.00065],[48.79,-0.00015],[48.92,0.00027],[49.03,0.00036],[49.13,0.00013],[49.23,-0.00015],[49.33,-0.00045],[49.44,-0.00031],[49.57,0.00024],[49.66,0.00038],[49.77,0.00029],[49.87,0.00024],[49.93,0.00004],[50.07,-0.00007],[50.20,-0.00012],[50.34,-0.00007],[50.47,-0.00001],[50.60,-0.00007],[50.74,-0.00012],[50.87,0.00010],[51.01,0.00038],[51.12,0.00046],[51.24,0.00058],[51.32,0.00024],[51.41,-0.00020],[51.55,-0.00029],[51.64,-0.00034],[51.77,-0.00001],[51.88,-0.00009],[52.02,-0.00026],[52.11,-0.00041],[52.22,-0.00023],[52.35,0.00029],[52.45,0.00054],[52.55,0.00062],[52.66,0.00027],[52.78,0.00013],[52.89,0.00002],[53.05,-0.00004],[53.16,-0.00031],[53.27,-0.00047],[53.40,-0.00015],[53.53,0.00015],[53.63,0.00021],[53.76,0.00015],[53.86,0.00002],[53.97,0.00029],[54.06,0.00032],[54.17,0.00013],[54.30,-0.00001],[54.40,-0.00031],[54.50,-0.00043],[54.61,-0.00023],[54.77,0.00035],[54.91,0.00043],[55.04,0.00027],[55.18,0.00002],[55.31,-0.00029],[55.44,-0.00009],[55.55,0.00002],[55.69,-0.00015],[55.82,-0.00023],[55.95,0.00004],[56.12,0.00018],[56.25,0.00004],[56.38,0.00018],[56.52,-0.00004],[56.65,-0.00034],[56.79,-0.00026],[56.92,-0.00023],[57.00,-0.00009]
];

/*---------chart setup-----------*/
Chart.defaults.font.family = "'DejaVu Sans', sans-serif";
Chart.defaults.color = '#000';

// matplotlib style minus sign on tick labels
function minus(s) {
    return s.replace('-', '\u2212');
}

// black box round the plot area
const frame = {
    id: 'frame',
    afterDraw(chart) {
        const a = chart.chartArea;
        const c = chart.ctx;
        c.save();
        c.strokeStyle = '#000';
        c.lineWidth = 3;
        c.strokeRect(a.left, a.top, a.right - a.left, a.bottom - a.top);
        c.restore();
    }
};

const gridStyle = {
    color: '#b0b0b0',
    lineWidth: 3,
    drawTicks: true,
    tickLength: 14,
    tickColor: '#000',
    tickWidth: 3
};

function makePanel(id, points, color, o) {
    const ctx = document.getElementById(id).getContext('2d');
    return new Chart(ctx, {
        type: 'line',
        data: {
            datasets: [{
                data: points.map(p => ({x: p[0], y: p[1]})),
                borderColor: color,
                borderWidth: 5.6,
                borderJoinStyle: 'round',
                pointRadius: 0,
                fill: false,
                tension: o.smooth ? 0.4 : 0,
                cubicInterpolationMode: o.smooth ? 'monotone' : 'default'
            }]
        },
        options: {
            responsive: false,
            animation: false,
            devicePixelRatio: 1,
            layout: {padding: {top: 83, right: 47, left: 0, bottom: 0}},
            plugins: {legend: {display: false}, tooltip: {enabled: false}},
            scales: {
                x: {
                    type: 'linear',
                    min: 0,
                    max: 57,
                    afterBuildTicks: s => { s.ticks = timeTicks.map(v => ({value: v})); },
                    afterFit: s => { s.height = o.xHeight; },
                    grid: gridStyle,
                    border: {display: false},
                    ticks: {font: {size: 40}, padding: 7, maxRotation: 0, autoSkip: false,
                            callback: v => String(v)},
                    title: {display: true, text: 'Time (s)', font: {size: 58},
                            padding: {top: 0, bottom: o.xTitlePad}}
                },
                y: {
                    min: o.min,
                    max: o.max,
                    afterBuildTicks: s => { s.ticks = o.ticks.map(v => ({value: v})); },
                    afterFit: s => { s.width = 300; },
                    grid: gridStyle,
                    border: {display: false},
                    ticks: {font: {size: 40}, padding: 14, autoSkip: false,
                            callback: v => minus(o.fmt(v))},
                    title: {display: true, text: o.label, font: {size: 58},
                            padding: {top: o.yTitlePad, bottom: 0}}
                }
            }
        },
        plugins: [frame]
    });
}

// Acceleration
makePanel('accChart', accel, '#000000', {
    min: -2.77, max: 2.74, ticks: accTicks, fmt: v => String(v),
    label: 'Acceleration (cm/s/s)', yTitlePad: 130, xHeight: 236, xTitlePad: 91
});

// Velocity
makePanel('velChart', velocity, '#0000ff', {
    min: -0.0813, max: 0.0809, ticks: velTicks, fmt: v => v.toFixed(2),
    label: 'Velocity (cm/s)', yTitlePad: 64, xHeight: 236, xTitlePad: 91, smooth: true
});

// Displacement
makePanel('dispChart', displacement, '#ff0000', {
    min: -0.00482, max: 0.00479, ticks: dispTicks, fmt: v => v.toFixed(3),
    label: 'Displacement (cm)', yTitlePad: 39, xHeight: 186, xTitlePad: 41, smooth: true
});
</script>
</body>
</html>
